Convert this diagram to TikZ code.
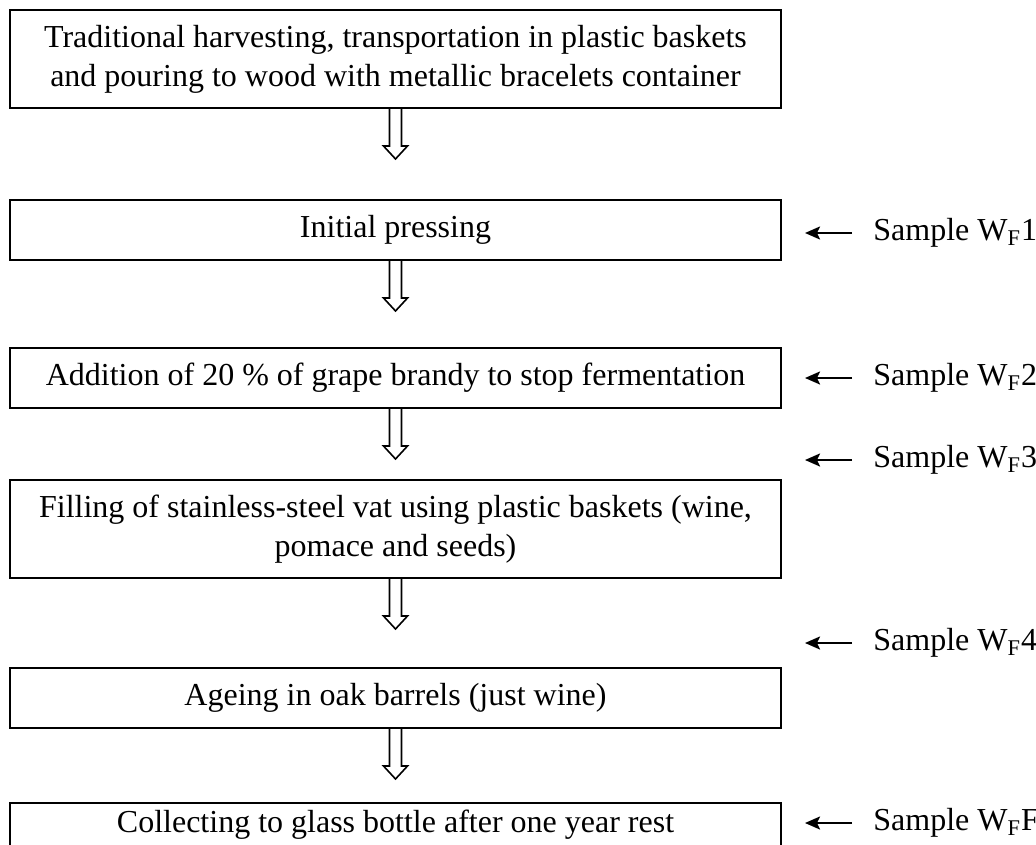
\documentclass[tikz,border=0pt]{standalone}
\usepackage{fontspec}
\setmainfont{Liberation Serif}
\usepackage{tikz}
\usetikzlibrary{arrows.meta,positioning}

\begin{document}
\begin{tikzpicture}[
  box/.style={draw=black, line width=1pt, align=center, minimum width=385.5pt, minimum height=30pt, inner sep=2pt, font=\fontsize{16}{19.5}\selectfont},
  tall/.style={box, minimum height=49pt},
  hollow/.style={draw=black, line width=0.8pt, line join=miter},
  sample/.style={anchor=west, inner sep=0pt, font=\fontsize{16}{19}\selectfont},
  samplearrow/.style={-{Stealth[length=7.5pt,width=6.5pt,inset=1.5pt]}, line width=1pt, shorten <=10.5pt}
]
\useasboundingbox (0,0) rectangle (518pt,-422pt);
\node[tall] (b1) at (197.75pt,-29.5pt) {Traditional harvesting, transportation in plastic baskets\\and pouring to wood with metallic bracelets container};
\node[box, below=45pt of b1] (b2) {Initial pressing};
\node[box, below=43pt of b2] (b3) {Addition of 20 \% of grape brandy to stop fermentation};
\node[tall, below=35pt of b3] (b4) {Filling of stainless-steel vat using plastic baskets (wine,\\pomace and seeds)};
\node[box, below=44pt of b4] (b5) {Ageing in oak barrels (just wine)};
\node[box, below=36.5pt of b5, minimum height=27pt, text depth=8.5pt] (b6) {Collecting to glass bottle after one year rest};
\foreach \a in {b1,b2,b3,b4,b5}
  \draw[hollow] ([xshift=-3pt]\a.south) -- ++(0,-18.5pt) -- ++(-3pt,0) -- ++(6pt,-6.5pt) -- ++(6pt,6.5pt) -- ++(-3pt,0) -- ++(0,18.5pt);
\foreach \y/\n in {-116.5pt/1,-189pt/2,-230pt/3,-321.5pt/4,-411.5pt/F} {
  \node[sample] (s\n) at (436.5pt,\y) {Sample W\textsubscript{F}\n};
  \draw[samplearrow] (s\n.west) -- ++(-34pt,0);
}
\end{tikzpicture}
\end{document}
